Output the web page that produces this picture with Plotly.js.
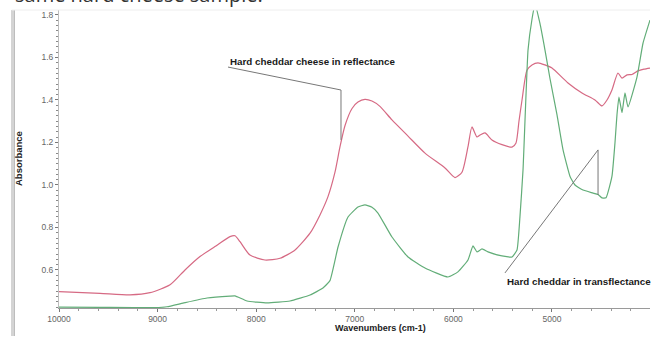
<!DOCTYPE html>
<html>
<head>
<meta charset="utf-8">
<script src="https://cdn.plot.ly/plotly-3.0.1.min.js"></script>
<style>
  html, body { margin: 0; padding: 0; background: #fff; overflow: hidden; }
  #wrap { position: relative; width: 655px; height: 339px; }
  #chart { position: absolute; left: 0; top: 0; width: 655px; height: 339px; }
  #bar { position: absolute; left: 11px; top: 10px; width: 3px; height: 326px; background: #d4d4d4; border-right: 1px solid #bdbdbd; }
</style>
</head>
<body>
<div id="wrap">
  <div id="bar"></div>
  <div id="chart"></div>
</div>
<script>
// Wavenumbers (cm-1) and absorbance
const reflWavenumber = [10000, 9584, 9280, 9077, 8874, 8722, 8570, 8418, 8266, 8215, 8164, 8063, 7911, 7759, 7606, 7454, 7353, 7272, 7201, 7150, 7099, 7028, 6968, 6897, 6826, 6745, 6623, 6460, 6288, 6085, 5984, 5913, 5852, 5812, 5761, 5730, 5680, 5609, 5507, 5406, 5365, 5335, 5304, 5254, 5203, 5142, 5071, 5000, 4838, 4696, 4564, 4493, 4442, 4392, 4331, 4290, 4239, 4189, 4128, 4067, 4006];
const reflAbsorbance = [0.498, 0.490, 0.483, 0.493, 0.530, 0.600, 0.663, 0.710, 0.757, 0.761, 0.733, 0.670, 0.647, 0.655, 0.694, 0.773, 0.859, 0.945, 1.060, 1.180, 1.280, 1.360, 1.390, 1.403, 1.395, 1.370, 1.306, 1.230, 1.150, 1.080, 1.035, 1.060, 1.180, 1.273, 1.226, 1.235, 1.245, 1.212, 1.190, 1.178, 1.198, 1.300, 1.400, 1.540, 1.565, 1.575, 1.565, 1.550, 1.480, 1.433, 1.400, 1.372, 1.400, 1.447, 1.527, 1.503, 1.518, 1.520, 1.537, 1.545, 1.550];

const transWavenumber = [10000, 9584, 9026, 8905, 8742, 8499, 8266, 8215, 8093, 7890, 7657, 7454, 7323, 7252, 7170, 7069, 6968, 6897, 6826, 6765, 6623, 6460, 6288, 6055, 5954, 5852, 5801, 5761, 5710, 5649, 5507, 5406, 5355, 5325, 5294, 5243, 5203, 5172, 5122, 5071, 5020, 4949, 4888, 4817, 4767, 4686, 4584, 4533, 4493, 4452, 4392, 4361, 4341, 4321, 4290, 4260, 4229, 4138, 4077, 4006];
const transAbsorbance = [0.425, 0.424, 0.423, 0.427, 0.444, 0.468, 0.477, 0.478, 0.454, 0.445, 0.454, 0.482, 0.515, 0.550, 0.708, 0.849, 0.896, 0.906, 0.895, 0.868, 0.755, 0.661, 0.609, 0.567, 0.591, 0.647, 0.713, 0.685, 0.699, 0.685, 0.666, 0.661, 0.694, 0.850, 1.070, 1.635, 1.780, 1.850, 1.760, 1.635, 1.500, 1.330, 1.165, 1.040, 1.000, 0.976, 0.962, 0.955, 0.939, 0.940, 1.040, 1.200, 1.330, 1.414, 1.340, 1.433, 1.367, 1.508, 1.667, 1.776];

const xTickVals = [10000, 9000, 8000, 7000, 6000, 5000];
const yTickVals = [0.6, 0.8, 1.0, 1.2, 1.4, 1.6, 1.8];

const seriesNames = ["Hard cheddar cheese in reflectance", "Hard cheddar in transflectance"];

const traces = [
  { x: reflWavenumber, y: reflAbsorbance, mode: 'lines', name: seriesNames[0],
    line: { color: '#d66a84', width: 1.2, shape: 'spline', smoothing: 0.6 }, hoverinfo: 'x+y' },
  { x: transWavenumber, y: transAbsorbance, mode: 'lines', name: seriesNames[1],
    line: { color: '#62ad78', width: 1.2, shape: 'spline', smoothing: 0.4 }, hoverinfo: 'x+y' }
];

const labelFont = { family: 'Liberation Sans, Arial, sans-serif', size: 9.8, color: '#1a1a1a' };
const tickFont = { family: 'Liberation Sans, Arial, sans-serif', size: 8.5, color: '#666' };

const layout = {
  width: 655, height: 339,
  margin: { l: 59, r: 5, t: 10, b: 31 },
  paper_bgcolor: 'rgba(0,0,0,0)', plot_bgcolor: 'rgba(0,0,0,0)',
  showlegend: false,
  xaxis: {
    range: [10000, 4006], autorange: false,
    tickvals: xTickVals, ticktext: xTickVals.map(String),
    ticks: 'outside', ticklen: 3, tickcolor: '#777', tickwidth: 1,
    minor: { dtick: 200, tick0: 0, ticks: 'outside', ticklen: 2, tickcolor: '#999' },
    showline: true, linecolor: '#9a9a9a', linewidth: 1,
    showgrid: false, zeroline: false, tickfont: tickFont,
    title: { text: '' }
  },
  yaxis: {
    range: [0.421, 1.8235], autorange: false,
    tickvals: yTickVals, ticktext: yTickVals.map(v => v.toFixed(1)),
    ticks: 'outside', ticklen: 3, tickcolor: '#777', tickwidth: 1,
    minor: { dtick: 0.025, tick0: 0, ticks: 'outside', ticklen: 2, tickcolor: '#888' },
    showline: true, linecolor: '#bdbdbd', linewidth: 1,
    showgrid: false, zeroline: false, tickfont: tickFont,
    title: { text: '' }
  },
  annotations: [
    { xref: 'paper', yref: 'paper', x: 0, y: 0.5, xshift: -41,
      text: '<b>Absorbance</b>', showarrow: false, textangle: -90,
      font: { family: 'Liberation Sans, Arial, sans-serif', size: 9.5, color: '#222' },
      xanchor: 'center', yanchor: 'middle' },
    { xref: 'paper', yref: 'paper', x: (380 - 59) / 591, y: 0, yshift: -20,
      text: '<b>Wavenumbers (cm-1)</b>', showarrow: false,
      font: { family: 'Liberation Sans, Arial, sans-serif', size: 9, color: '#222' },
      xanchor: 'center', yanchor: 'middle' },
    { xref: 'x', yref: 'y', x: 8286, y: 1.579,
      text: '<b>' + seriesNames[0] + '</b>', showarrow: false, font: labelFont,
      xanchor: 'left', yanchor: 'middle' },
    { xref: 'x', yref: 'y', x: 5477, y: 0.548,
      text: '<b>' + seriesNames[1] + '</b>', showarrow: false, font: labelFont,
      xanchor: 'left', yanchor: 'middle' },
    { xref: 'paper', yref: 'paper', x: 0, xshift: -46, y: 1, yshift: 0,
      text: 'same hard cheese sample.', showarrow: false,
      font: { family: 'Open Sans, sans-serif', size: 20, color: '#333' },
      xanchor: 'left', yanchor: 'bottom' }
  ],
  shapes: [
    { type: 'path', xref: 'x', yref: 'y', path: 'M 8286 1.555 L 7140 1.447 L 7140 1.212',
      line: { color: '#777', width: 1 } },
    { type: 'path', xref: 'x', yref: 'y', path: 'M 5477 0.586 L 4533 1.165 L 4533 0.953',
      line: { color: '#777', width: 1 } },
    { type: 'line', xref: 'paper', yref: 'paper', x0: -0.08, x1: 1, y0: 1, y1: 1,
      line: { color: '#eeeeee', width: 1 } }
  ]
};

Plotly.newPlot('chart', traces, layout, { staticPlot: true, displayModeBar: false });
</script>
</body>
</html>
